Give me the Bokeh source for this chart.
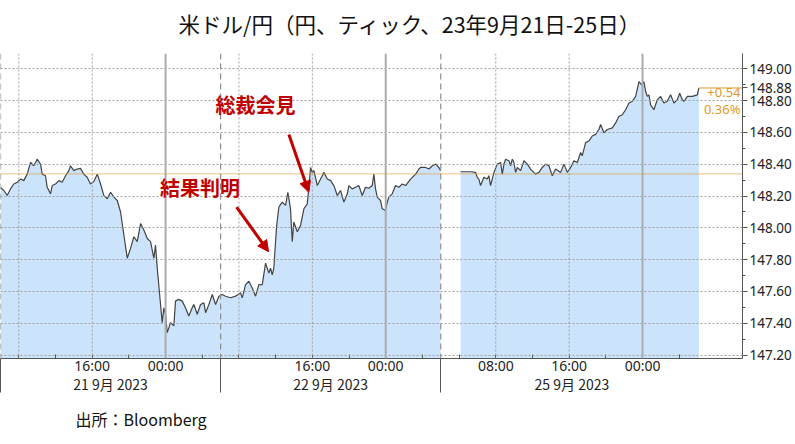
from bokeh.plotting import figure
from bokeh.models import (LinearAxis, FixedTicker, SingleIntervalTicker, Span, Label,
                          Arrow, NormalHead, Title, Range1d, NumeralTickFormatter)
from bokeh.embed import file_html
from bokeh.resources import INLINE

# x: hours on the chart's trading-time axis (21 Sep 06:00 = 0, weekend removed)
seg1_hours = [
    0.00, 0.36, 0.73, 1.09, 1.45, 1.82, 2.18, 2.54, 2.91, 3.27,
    3.63, 4.00, 4.36, 4.55, 4.91, 5.09, 5.45, 5.64, 6.00, 6.36,
    6.73, 7.09, 7.45, 7.63, 7.99, 8.36, 8.72, 9.08, 9.45, 9.81,
    10.17, 10.55, 10.91, 11.26, 11.64, 12.00, 12.36, 12.73, 13.09, 13.45,
    13.82, 14.18, 14.54, 14.91, 15.27, 15.63, 16.00, 16.36, 16.72, 16.90,
    17.09, 17.45, 17.63, 17.81, 17.99, 18.18, 18.54, 18.90, 19.08, 19.44,
    19.81, 20.17, 20.53, 20.90, 21.08, 21.45, 21.81, 22.17, 22.36, 22.72,
    23.09, 23.45, 23.81, 24.18, 24.54, 25.08, 25.63, 26.17, 26.36, 26.72,
    27.08, 27.45, 27.81, 28.17, 28.54, 28.90, 29.26, 29.44, 29.63, 29.80,
    29.99, 30.10, 30.35, 30.72, 31.08, 31.33, 31.62, 31.81, 31.98, 32.36,
    32.72, 33.08, 33.45, 33.81, 33.99, 34.17, 34.54, 34.90, 35.26, 35.63,
    35.99, 36.35, 36.72, 37.08, 37.44, 37.81, 37.98, 38.35, 38.71, 39.07,
    39.44, 39.80, 40.16, 40.53, 40.71, 40.89, 41.08, 41.44, 41.62, 41.98,
    42.17, 42.34, 42.71, 43.07, 43.43, 43.80, 44.17, 44.71, 45.26, 45.62,
    45.80, 46.35, 46.71, 47.08, 47.44, 47.80, 47.98,
]
seg1_price = [
    148.255, 148.235, 148.204, 148.245, 148.276, 148.287, 148.307, 148.297, 148.338, 148.411,
    148.391, 148.432, 148.401, 148.338, 148.328, 148.255, 148.214, 148.266, 148.276, 148.297,
    148.287, 148.328, 148.360, 148.391, 148.360, 148.370, 148.374, 148.338, 148.318, 148.276,
    148.291, 148.338, 148.276, 148.204, 148.183, 148.224, 148.193, 148.172, 148.100, 147.955,
    147.809, 147.871, 147.944, 147.913, 148.027, 147.986, 147.933, 147.913, 147.809, 147.892,
    147.746, 147.518, 147.404, 147.497, 147.456, 147.341, 147.404, 147.383, 147.539, 147.550,
    147.539, 147.497, 147.445, 147.497, 147.518, 147.456, 147.518, 147.528, 147.466, 147.518,
    147.581, 147.518, 147.570, 147.581, 147.570, 147.560, 147.570, 147.591, 147.560, 147.643,
    147.664, 147.622, 147.570, 147.643, 147.643, 147.778, 147.715, 147.746, 147.705, 147.746,
    147.913, 148.006, 148.131, 148.162, 148.141, 148.224, 148.120, 147.913, 148.037, 147.975,
    148.017, 148.120, 148.151, 148.380, 148.349, 148.360, 148.266, 148.307, 148.349, 148.307,
    148.297, 148.266, 148.204, 148.235, 148.162, 148.214, 148.266, 148.245, 148.255, 148.266,
    148.204, 148.255, 148.249, 148.266, 148.338, 148.245, 148.193, 148.172, 148.120, 148.110,
    148.162, 148.193, 148.214, 148.266, 148.255, 148.276, 148.266, 148.307, 148.338, 148.370,
    148.380, 148.380, 148.370, 148.391, 148.401, 148.380, 148.360,
]
seg2_hours = [
    50.16, 51.25, 51.80, 51.98, 52.16, 52.34, 52.70, 53.07, 53.25, 53.43,
    53.80, 54.17, 54.53, 54.71, 54.89, 55.07, 55.43, 55.62, 55.80, 55.98,
    56.16, 56.35, 56.71, 57.07, 57.44, 57.80, 58.34, 58.70, 59.07, 59.43,
    59.79, 60.16, 60.52, 61.07, 61.43, 61.80, 62.16, 62.52, 62.89, 63.25,
    63.43, 63.79, 64.15, 64.52, 64.88, 65.25, 65.43, 65.79, 66.16, 66.71,
    67.07, 67.43, 67.80, 68.16, 68.52, 68.89, 69.25, 69.61, 69.90, 70.15,
    70.34, 70.52, 70.70, 70.88, 71.24, 71.61, 71.97, 72.33, 72.70, 73.06,
    73.42, 73.79, 74.05, 74.34, 74.51, 74.89, 75.43, 75.97, 76.15,
]
seg2_price = [
    148.353, 148.353, 148.349, 148.318, 148.307, 148.266, 148.318, 148.307, 148.328, 148.266,
    148.349, 148.401, 148.411, 148.338, 148.401, 148.432, 148.422, 148.391, 148.432, 148.411,
    148.349, 148.380, 148.360, 148.422, 148.401, 148.370, 148.338, 148.349, 148.380, 148.401,
    148.391, 148.328, 148.370, 148.349, 148.401, 148.349, 148.380, 148.422, 148.411, 148.474,
    148.453, 148.536, 148.546, 148.578, 148.588, 148.619, 148.650, 148.598, 148.619, 148.629,
    148.660, 148.702, 148.712, 148.743, 148.785, 148.796, 148.827, 148.920, 148.899, 148.920,
    148.858, 148.827, 148.837, 148.774, 148.743, 148.806, 148.827, 148.785, 148.796, 148.837,
    148.785, 148.806, 148.847, 148.806, 148.796, 148.827, 148.827, 148.837, 148.880,
]

prev_close = 148.34
last_price = 148.88
change_text = "+0.54"
change_pct_text = "0.36%"

# right-axis ticks: regular 0.20 steps plus the last-price tag
y_ticks = [147.2, 147.4, 147.6, 147.8, 148.0, 148.2, 148.4, 148.6, 148.8, 149.0, last_price]
y_minor_ticks = [147.3, 147.5, 147.7, 147.9, 148.1, 148.3, 148.5, 148.7, 148.9, 149.1]

time_tick_pos = [2, 6, 10, 14, 18, 22, 26, 30, 34, 38, 42, 46, 50, 54, 58, 62, 66, 70, 74]
time_tick_labels = ["", "", "16:00", "", "00:00", "", "", "", "16:00", "", "00:00", "",
                    "", "08:00", "", "16:00", "", "00:00", ""]
day_bounds = [0, 24, 48]
midnight_hours = [18, 42, 70]
dotted_hours = [2, 10, 26, 34, 54, 62]
day_label_pos = [12, 36, 62.3]
day_labels = ["21 9月 2023", "22 9月 2023", "25 9月 2023"]

title_text = "米ドル/円（円、ティック、23年9月21日-25日）"
source_text = "出所：Bloomberg"
note1_text, note1_x, note1_y = "総裁会見", 27.8, 148.773
note2_text, note2_x, note2_y = "結果判明", 21.76, 148.255
arrow1 = (31.44, 148.588, 33.62, 148.224)
arrow2 = (25.74, 148.131, 29.23, 147.850)

x_start, x_end = 0, 80.9
y_start, y_end = 147.178, 149.097

FILL = "#CCE4FB"
LINE = "#444444"
ORANGE = "#E09A2C"
RED = "#C00000"
GRID = "#9E9E9E"
AXIS = "#555555"
LATIN = "Noto Sans"
CJK = "Noto Sans CJK JP"

p = figure(width=795, height=444, x_range=Range1d(x_start, x_end),
           y_range=Range1d(y_start, y_end), y_axis_location="right",
           x_axis_location=None, output_backend="svg", toolbar_location=None,
           min_border_left=0, min_border_right=53, min_border_top=50,
           min_border_bottom=86)
p.outline_line_color = None
p.background_fill_color = "white"
p.border_fill_color = "white"

p.title.text = title_text
p.title.text_font = CJK
p.title.text_font_size = "21.5px"
p.title.text_font_style = "normal"
p.title.text_color = "#111111"
p.title.align = "left"
p.title.offset = 178
# small empty spacer between title and frame
p.add_layout(Title(text=" ", text_font_size="5px", standoff=2), "above")

# price area and line
p.varea(x=seg1_hours, y1=y_start, y2=seg1_price, fill_color=FILL)
p.varea(x=seg2_hours, y1=y_start, y2=seg2_price, fill_color=FILL)
p.line(seg1_hours, seg1_price, line_color=LINE, line_width=1.2)
p.line(seg2_hours, seg2_price, line_color=LINE, line_width=1.2)

# y axis (right)
p.yaxis.ticker = FixedTicker(ticks=y_ticks, minor_ticks=y_minor_ticks)
p.yaxis.formatter = NumeralTickFormatter(format="0.00")
p.yaxis.axis_line_color = AXIS
p.yaxis.major_tick_line_color = AXIS
p.yaxis.minor_tick_line_color = AXIS
p.yaxis.major_tick_in = 0
p.yaxis.major_tick_out = 5
p.yaxis.minor_tick_in = 0
p.yaxis.minor_tick_out = 3
p.yaxis.major_label_standoff = 2
p.yaxis.major_label_text_font = LATIN
p.yaxis.major_label_text_font_size = "13.5px"
p.yaxis.major_label_text_color = "#222222"

p.ygrid.ticker = SingleIntervalTicker(interval=0.2, num_minor_ticks=2)
p.ygrid.grid_line_color = GRID
p.ygrid.grid_line_dash = "2 2"
p.ygrid.grid_line_width = 1
p.ygrid.level = "annotation"
p.xgrid.visible = False

# x axes: time ticks with long day separators, then day labels
ax_time = LinearAxis(
    ticker=FixedTicker(ticks=time_tick_pos, minor_ticks=day_bounds),
    major_label_overrides=dict(zip(time_tick_pos, time_tick_labels)),
    axis_line_color=AXIS, major_tick_line_color=AXIS, minor_tick_line_color=AXIS,
    major_tick_in=4, major_tick_out=0, minor_tick_in=0, minor_tick_out=34,
    major_label_standoff=-37, major_label_text_font=LATIN,
    major_label_text_font_size="14px", major_label_text_color="#222222")
p.add_layout(ax_time, "below")
ax_day = LinearAxis(
    ticker=FixedTicker(ticks=day_label_pos, minor_ticks=[]),
    major_label_overrides=dict(zip(day_label_pos, day_labels)),
    axis_line_color=None, major_tick_line_color=None, minor_tick_line_color=None,
    major_label_standoff=-10, major_label_text_font=CJK,
    major_label_text_font_size="14px", major_label_text_color="#222222")
p.add_layout(ax_day, "below")

src = Title(text=source_text, align="left", offset=75, text_font=CJK,
            text_font_size="16px", text_font_style="normal", text_color="#111111",
            standoff=16)
p.add_layout(src, "below")

# vertical guides
for h in day_bounds:
    p.add_layout(Span(location=h, dimension="height", line_color="#8E8E8E",
                      line_dash="6 4", line_width=1.2))
for h in midnight_hours:
    p.add_layout(Span(location=h, dimension="height", line_color="#ABABAB",
                      line_width=2))
for h in dotted_hours:
    p.add_layout(Span(location=h, dimension="height", line_color=GRID,
                      line_dash="2 2", line_width=1))

# previous close and last-price markers
p.add_layout(Span(location=prev_close, dimension="width", line_color=ORANGE,
                  line_dash="1 1", line_width=1.2))
p.line([seg2_hours[-1], x_end], [last_price, last_price], line_color=ORANGE, line_width=1)
p.add_layout(Label(x=x_end, y=last_price, x_offset=-2, y_offset=-5, text=change_text,
                   text_align="right", text_baseline="middle", text_color=ORANGE,
                   text_font=LATIN, text_font_size="13px"))
p.add_layout(Label(x=x_end, y=last_price, x_offset=-2, y_offset=-21, text=change_pct_text,
                   text_align="right", text_baseline="middle", text_color=ORANGE,
                   text_font=LATIN, text_font_size="13px"))

# event annotations
for txt, lx, ly in [(note1_text, note1_x, note1_y), (note2_text, note2_x, note2_y)]:
    p.add_layout(Label(x=lx, y=ly, text=txt, text_align="center", text_baseline="middle",
                       text_color=RED, text_font=CJK, text_font_style="bold",
                       text_font_size="20px"))
for (xs, ys, xe, ye) in [arrow1, arrow2]:
    p.add_layout(Arrow(end=NormalHead(size=11, fill_color=RED, line_color=RED),
                       x_start=xs, y_start=ys, x_end=xe, y_end=ye,
                       line_color=RED, line_width=3))

open("out.html", "w").write(file_html(p, INLINE))
